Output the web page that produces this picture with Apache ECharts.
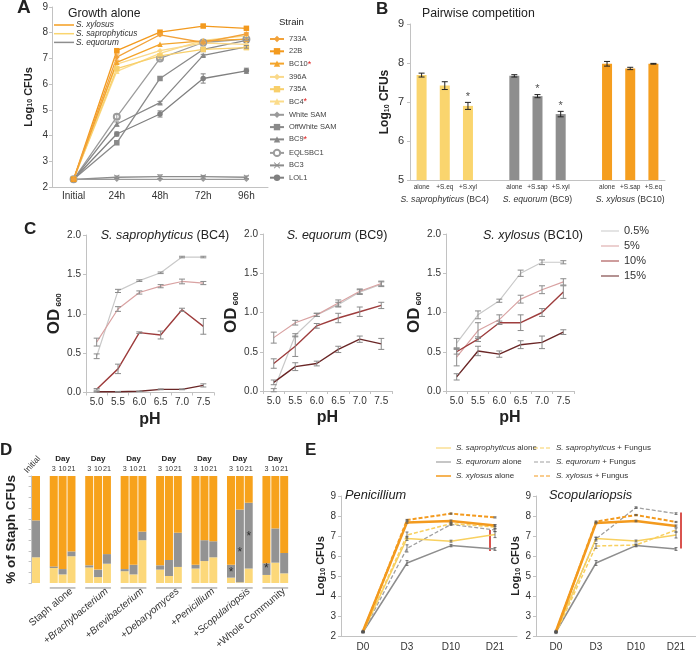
<!DOCTYPE html>
<html><head><meta charset="utf-8">
<script src="https://cdn.jsdelivr.net/npm/echarts@6/dist/echarts.min.js"></script>
<style>html,body{margin:0;padding:0;background:#fff}#c{width:696px;height:652px}</style>
</head><body><div id="c"></div>
<script>
// ================= DATA =================
// Panel A: growth alone
const timeCats = ['Initial','24h','48h','72h','96h'];
const strainNames = ['733A','22B','BC10','396A','735A','BC4','White SAM','OffWhite SAM','BC9','EQLSBC1','BC3','LOL1'];
const starredStrains = ['BC10','BC4','BC9'];
const v733A = [2.3,7.05,7.92,7.62,7.95];
const v22B = [2.3,7.3,8.02,8.26,8.17];
const vBC10 = [2.3,6.85,7.55,7.68,7.75];
const v396A = [2.3,6.78,7.3,7.6,7.55];
const v735A = [2.3,6.6,7.1,7.35,7.42];
const vBC4 = [2.3,6.5,7.2,7.7,7.88];
const vWhiteSAM = [2.3,2.3,2.3,2.3,2.3];
const vOffWhiteSAM = [2.3,3.72,6.22,7.35,7.7];
const vBC9 = [2.3,4.45,5.28,7.12,7.45];
const vEQLSBC1 = [2.3,4.73,7.0,7.62,7.75];
const vBC3 = [2.3,2.38,2.4,2.4,2.38];
const vLOL1 = [2.3,4.06,4.84,6.22,6.52];
const e733A = [0,0.12,0.04,0.05,0.05];
const e22B = [0,0.04,0.04,0.04,0.04];
const eBC9 = [0,0.08,0.05,0.04,0.05];
const eEQLSBC1 = [0,0.09,0.05,0.05,0.06];
const eBC3 = [0,0.05,0.07,0.05,0.05];
const eLOL1 = [0,0.08,0.12,0.18,0.1];
const strainValues = [v733A,v22B,vBC10,v396A,v735A,vBC4,vWhiteSAM,vOffWhiteSAM,vBC9,vEQLSBC1,vBC3,vLOL1];
const strainErrors = [e733A,e22B,null,null,null,null,null,null,eBC9,eEQLSBC1,eBC3,eLOL1];
const speciesLegend = ['S. xylosus','S. saprophyticus','S. equorum'];

// Panel B: pairwise competition
const pairCats = ['alone','+S.eq','+S.xyl','g1','alone','+S.sap','+S.xyl','g2','alone','+S.sap','+S.eq'];
const pairValues = [7.69,7.42,6.9,null,7.67,7.15,6.69,null,7.98,7.86,7.98];
const pairErr = [0.05,0.1,0.09,null,0.03,0.04,0.07,null,0.06,0.03,0.01];
const pairSig = [0,0,1,0,0,1,1,0,0,0,0];
const pairGroups = ['S. saprophyticus (BC4)','S. equorum (BC9)','S. xylosus (BC10)'];

// Panel C: OD600 vs pH at salt levels
const phCats = ['5.0','5.5','6.0','6.5','7.0','7.5'];
const saltLevels = ['0.5%','5%','10%','15%'];
const cTitles = ['S. saprophyticus (BC4)','S. equorum (BC9)','S. xylosus (BC10)'];
const sapOD05 = [0.46,1.29,1.42,1.52,1.72,1.72];
const sapOD5  = [0.64,1.06,1.27,1.35,1.41,1.39];
const sapOD10 = [0.04,0.30,0.76,0.73,1.05,0.84];
const sapOD15 = [0.01,0.01,0.015,0.04,0.04,0.09];
const sapE05 = [0.03,0.02,0.01,0.01,0.01,0.01];
const sapE5  = [0.05,0.03,0.02,0.02,0.03,0.02];
const sapE10 = [0.01,0.06,0.01,0.05,0.02,0.1];
const sapE15 = [0.005,0.003,0.003,0.005,0.005,0.02];
const eqOD05 = [0.01,0.71,0.97,1.10,1.26,1.36];
const eqOD5  = [0.68,0.87,0.97,1.12,1.27,1.37];
const eqOD10 = [0.35,0.57,0.83,0.93,1.01,1.09];
const eqOD15 = [0.11,0.31,0.35,0.53,0.66,0.60];
const eqE05 = [0.02,0.02,0.02,0.03,0.03,0.03];
const eqE5  = [0.07,0.03,0.02,0.04,0.03,0.03];
const eqE10 = [0.06,0.13,0.03,0.06,0.06,0.04];
const eqE15 = [0.03,0.05,0.03,0.04,0.04,0.07];
const xylOD05 = [0.61,0.97,1.15,1.50,1.64,1.64];
const xylOD5  = [0.43,0.77,0.91,1.17,1.29,1.39];
const xylOD10 = [0.50,0.66,0.87,0.87,1.00,1.26];
const xylOD15 = [0.18,0.51,0.47,0.59,0.62,0.75];
const xylE05 = [0.06,0.05,0.02,0.04,0.03,0.02];
const xylE5  = [0.11,0.1,0.06,0.05,0.05,0.04];
const xylE10 = [0.03,0.03,0.02,0.1,0.05,0.08];
const xylE15 = [0.04,0.06,0.04,0.05,0.08,0.03];

// Panel D: % of Staph CFUs (stacked)
const dGroups = ['Staph alone','+Brachybacterium','+Brevibacterium','+Debaryomyces','+Penicillium','+Scopulariopsis','+Whole Community'];
const dDays = ['3','10','21'];
const dYellow = [24,null,14,8,25,null,14.5,5.5,18,null,11,8,40,null,12.5,6.5,15,null,13.5,20.5,24,null,5,0.6,13.5,null,7.5,19,9];
const dGray   = [34.5,null,1.5,5,4.5,null,2,7,9,null,2,9,8,null,4,15,32,null,3.5,19.5,15,null,12,68,61.5,null,11,32,19];
const dOrange = [41.5,null,84.5,87,70.5,null,83.5,87.5,73,null,87,83,52,null,83.5,78.5,53,null,83,60,61,null,83,31.4,25,null,81.5,49,72];
const dStars = [[22,10],[23,28],[24,43],[26,13]];

// Panel E: with fungi
const dayCats = ['D0','D3','D10','D21'];
const eNames = ['S. saprophyticus alone','S. equrorum alone','S. xylosus alone','S. saprophyticus + Fungus','S. equrorum + Fungus','S. xylosus + Fungus'];
const eFungi = ['Penicillium','Scopulariopsis'];
const penSapAlone = [2.2,6.88,6.74,7.07];
const penEqAlone  = [2.2,5.65,6.52,6.35];
const penXylAlone = [2.25,7.68,7.75,7.52];
const penSapFungus = [2.18,7.05,7.62,7.45];
const penEqFungus  = [2.2,6.38,7.58,7.3];
const penXylFungus = [2.2,7.8,8.12,7.93];
const scoSapAlone = [2.2,6.87,6.75,7.05];
const scoEqAlone  = [2.2,5.65,6.52,6.35];
const scoXylAlone = [2.25,7.65,7.75,7.5];
const scoSapFungus = [2.15,6.5,6.55,7.3];
const scoEqFungus  = [2.2,6.85,8.42,8.12];
const scoXylFungus = [2.2,7.72,8.05,7.7];
const penErrSapAlone = [0.03,0.1,0.05,0.15];
const penErrEqAlone  = [0.03,0.12,0.06,0.07];
const penErrXylAlone = [0.03,0.04,0.05,0.05];
const penErrSapFungus = [0.03,0.15,0.05,0.1];
const penErrEqFungus  = [0.03,0.18,0.05,0.08];
const penErrXylFungus = [0.03,0.03,0.03,0.03];
const scoErrSapAlone = [0.03,0.05,0.05,0.15];
const scoErrEqAlone  = [0.03,0.12,0.06,0.07];
const scoErrXylAlone = [0.03,0.04,0.04,0.05];
const scoErrSapFungus = [0.03,0.12,0.05,0.1];
const scoErrEqFungus  = [0.03,0.1,0.04,0.04];
const scoErrXylFungus = [0.03,0.03,0.03,0.03];
const penRange = [3,6.25,7.3];
const scoRange = [3,6.38,8.17];

// ================= STYLE =================
const F = '"Liberation Sans", Arial, sans-serif';
const ORANGE = '#F59E1F', YELLOW = '#FAD56E', GRAY = '#8E8E8E', AXC = '#c2c2c2', TXT = '#333';
const XPATH = 'path://M0,1L1,0L5,4L9,0L10,1L6,5L10,9L9,10L5,6L1,10L0,9L4,5Z';
const BOX = 'M0,0H0.01V0.01H0Z M19.99,9.99H20V10H19.99Z ';
const ICON_LINE = 'path://' + BOX + 'M0,4.4H20V5.6H0Z';
const ICON_THICK = 'path://' + BOX + 'M0,3.9H20V6.1H0Z';
const ICON_DASH = 'path://' + BOX + 'M0,4.3H5V5.7H0Z M7.5,4.3H12.5V5.7H7.5Z M15,4.3H20V5.7H15Z';

function errData(vals, errs){ const out=[]; if(!errs) return out; vals.forEach((v,i)=>{ if(v!=null && errs[i]) out.push([i, v-errs[i], v+errs[i]]); }); return out; }
function errSeries(xi, yi, vals, errs, color, cap, lw){
  return {type:'custom', xAxisIndex:xi, yAxisIndex:yi, silent:true, z:6, data:errData(vals,errs), encode:{x:0,y:[1,2]},
    renderItem:(p,api)=>{ const a=api.coord([api.value(0),api.value(2)]), b=api.coord([api.value(0),api.value(1)]); const x=a[0];
      const st={stroke:color,lineWidth:lw};
      return {type:'group',children:[
        {type:'line',shape:{x1:x,y1:a[1],x2:x,y2:b[1]},style:st},
        {type:'line',shape:{x1:x-cap,y1:a[1],x2:x+cap,y2:a[1]},style:st},
        {type:'line',shape:{x1:x-cap,y1:b[1],x2:x+cap,y2:b[1]},style:st}]}; }};
}
const axLine = {show:true, lineStyle:{color:AXC,width:1}};
const axTick = {show:true, length:3, lineStyle:{color:AXC}};
const lbl = (fs, m, extra) => Object.assign({fontSize:fs, color:TXT, margin:m, fontFamily:F}, extra||{});
const subName = (fs, sub) => ({fontSize:fs, fontWeight:'bold', color:'#222', fontFamily:F, rich:{s:{fontSize:sub, fontWeight:'bold', color:'#222', verticalAlign:'bottom', fontFamily:F}}});

// ================= LAYOUT =================
const grids = [
  {left:52, top:7, width:216, height:180},      // A
  {left:410, top:24, width:255, height:156},    // B
  {left:86, top:235, width:128, height:157.5},  // C1
  {left:263, top:234, width:129, height:157},   // C2
  {left:446, top:234, width:128, height:157},   // C3
  {left:31.6, top:476, width:257, height:110},  // D
  {left:341, top:496, width:176, height:140},   // E1
  {left:536, top:496, width:161, height:140}    // E2
];

// D categories
const dCats = ['Initial','gap0'];
dGroups.forEach((g,gi)=>{ dDays.forEach(d=>dCats.push(g+'|'+d)); if(gi<dGroups.length-1) dCats.push('gap'+(gi+1)); });
const dSpans = dGroups.map((g,gi)=>[2+gi*4, 4+gi*4]);

const pHName = {name:'pH',nameLocation:'middle',nameGap:19,nameTextStyle:{fontSize:16,fontWeight:'bold',color:'#222',fontFamily:F}};
const xAxis = [
  {gridIndex:0,type:'category',data:timeCats,axisLine:axLine,axisTick:{length:4,lineStyle:{color:AXC}},axisLabel:lbl(10,4)},
  {gridIndex:1,type:'category',data:pairCats,axisLine:axLine,axisTick:{show:false},axisLabel:lbl(6.5,4,{interval:0,formatter:v=>v.startsWith('g')?'':v})},
  {gridIndex:1,type:'category',data:pairCats,position:'bottom',axisLine:{show:false},axisTick:{show:false},
    axisLabel:lbl(8.6,15,{interval:0,formatter:(v,i)=>{const k=[1,5,9].indexOf(i); if(k<0) return ''; const s=pairGroups[k]; const m=s.match(/^(S\. \w+)(.*)$/); return '{i|'+m[1]+'}'+m[2];},
      rich:{i:{fontStyle:'italic',fontSize:8.6,color:TXT,fontFamily:F}}})},
  Object.assign({gridIndex:2,type:'category',data:phCats,axisLine:axLine,axisTick:axTick,axisLabel:lbl(10,5)},pHName),
  Object.assign({gridIndex:3,type:'category',data:phCats,axisLine:axLine,axisTick:axTick,axisLabel:lbl(10,5)},pHName),
  Object.assign({gridIndex:4,type:'category',data:phCats,axisLine:axLine,axisTick:axTick,axisLabel:lbl(10,5)},pHName),
  {gridIndex:5,type:'category',data:dCats,axisLine:{show:false},axisTick:{show:false},
    axisLabel:lbl(10,7,{interval:0,rotate:40,formatter:(v)=>{const p=v.split('|'); if(p.length<2||p[1]!=='21') return ''; const g=p[0]; return g.startsWith('+')&&g!=='+Whole Community' ? '+{i|'+g.slice(1)+'}' : g;},
      rich:{i:{fontStyle:'italic',fontSize:10,color:TXT,fontFamily:F}}})},
  {gridIndex:5,type:'category',data:dCats,position:'top',axisLine:{show:false},axisTick:{show:false},
    axisLabel:lbl(7.2,2,{interval:0,lineHeight:10,formatter:(v)=>{const p=v.split('|'); if(p.length<2) return ''; return p[1]==='10' ? '{d|Day}\n'+p[1] : p[1];},
      rich:{d:{fontSize:8,fontWeight:'bold',color:'#222',fontFamily:F,lineHeight:10}}})},
  {gridIndex:6,type:'category',data:dayCats,axisLine:axLine,axisTick:{length:4,lineStyle:{color:AXC}},axisLabel:lbl(10,6)},
  {gridIndex:7,type:'category',data:dayCats,axisLine:axLine,axisTick:{length:4,lineStyle:{color:AXC}},axisLabel:lbl(10,6)}
];
const yAxis = [
  {gridIndex:0,type:'value',min:2,max:9,interval:1,splitLine:{show:false},axisLine:axLine,axisTick:axTick,axisLabel:lbl(10,4),
    name:'Log{s|10} CFUs',nameLocation:'middle',nameRotate:90,nameGap:18,nameTextStyle:subName(11,7)},
  {gridIndex:1,type:'value',min:5,max:9,interval:1,splitLine:{show:false},axisLine:axLine,axisTick:axTick,axisLabel:lbl(11,6),
    name:'Log{s|10} CFUs',nameLocation:'middle',nameRotate:90,nameGap:19,nameTextStyle:subName(12,7)},
  {gridIndex:2,type:'value',min:0,max:2,interval:0.5,splitLine:{show:false},axisLine:axLine,axisTick:axTick,axisLabel:lbl(10,5,{formatter:v=>v.toFixed(1)}),
    name:'OD{s| 600}',nameLocation:'middle',nameRotate:90,nameGap:21,nameTextStyle:subName(17,8)},
  {gridIndex:3,type:'value',min:0,max:2,interval:0.5,splitLine:{show:false},axisLine:axLine,axisTick:axTick,axisLabel:lbl(10,5,{formatter:v=>v.toFixed(1)}),
    name:'OD{s| 600}',nameLocation:'middle',nameRotate:90,nameGap:21,nameTextStyle:subName(17,8)},
  {gridIndex:4,type:'value',min:0,max:2,interval:0.5,splitLine:{show:false},axisLine:axLine,axisTick:axTick,axisLabel:lbl(10,5,{formatter:v=>v.toFixed(1)}),
    name:'OD{s| 600}',nameLocation:'middle',nameRotate:90,nameGap:18,nameTextStyle:subName(17,8)},
  {gridIndex:5,type:'value',min:0,max:100,interval:10,splitLine:{show:false},axisLine:axLine,axisTick:axTick,axisLabel:{show:false},
    name:'% of Staph CFUs',nameLocation:'middle',nameRotate:90,nameGap:13,nameTextStyle:{fontSize:13.5,fontWeight:'bold',color:'#222',fontFamily:F}},
  {gridIndex:6,type:'value',min:2,max:9,interval:1,splitLine:{show:false},axisLine:axLine,axisTick:axTick,axisLabel:lbl(10,5),
    name:'Log{s|10} CFUs',nameLocation:'middle',nameRotate:90,nameGap:14,nameTextStyle:subName(11,7)},
  {gridIndex:7,type:'value',min:2,max:9,interval:1,splitLine:{show:false},axisLine:axLine,axisTick:axTick,axisLabel:lbl(10,5),
    name:'Log{s|10} CFUs',nameLocation:'middle',nameRotate:90,nameGap:14,nameTextStyle:subName(11,7)}
];

const series = [];
// ----- A
const strainColors = ['#F2A23A','#F39A1E','#F4A52C','#FAD98A','#F8CF6A','#FBDC8B','#9a9a9a','#8a8a8a','#888888','#9c9c9c','#8c8c8c','#808080'];
const strainSymbols = ['diamond','rect','triangle','diamond','rect','triangle','diamond','rect','triangle','emptyCircle',XPATH,'circle'];
for (let k = strainNames.length-1; k >= 0; k--) {
  series.push({type:'line',name:strainNames[k],xAxisIndex:0,yAxisIndex:0,data:strainValues[k],symbol:strainSymbols[k],symbolSize:strainSymbols[k]==='emptyCircle'?6:5.5,
    itemStyle:{color:strainColors[k]},lineStyle:{color:strainColors[k],width:1.3},z:3});
  if (strainErrors[k]) series.push(errSeries(0,0,strainValues[k],strainErrors[k],strainColors[k],2.5,1));
}
// ----- B
const pairColor = i => i<3 ? YELLOW : (i<7 ? GRAY : ORANGE);
series.push({type:'bar',xAxisIndex:1,yAxisIndex:1,barWidth:10,data:pairValues.map((v,i)=>v==null?null:{value:v,itemStyle:{color:pairColor(i)}})});
series.push(errSeries(1,1,pairValues,pairErr,'#222',3,1));
series.push({type:'scatter',xAxisIndex:1,yAxisIndex:1,symbolSize:0,silent:true,
  data:pairValues.map((v,i)=>pairSig[i]?[i,v+pairErr[i]]:null).filter(Boolean),
  label:{show:true,position:'top',distance:0,formatter:'*',fontSize:11,color:'#222',fontFamily:F}});
// ----- C
const saltColors = ['#C9C9C9','#D9A2A2','#9E3D3D','#6A2626'];
const saltWidths = [1.2,1.2,1.4,1.4];
const cVals = [[sapOD05,sapOD5,sapOD10,sapOD15],[eqOD05,eqOD5,eqOD10,eqOD15],[xylOD05,xylOD5,xylOD10,xylOD15]];
const cErrs = [[sapE05,sapE5,sapE10,sapE15],[eqE05,eqE5,eqE10,eqE15],[xylE05,xylE5,xylE10,xylE15]];
cVals.forEach((set,p)=>{ set.forEach((vals,s)=>{
  series.push({type:'line',name:saltLevels[s],xAxisIndex:3+p,yAxisIndex:2+p,data:vals,symbol:'none',lineStyle:{color:saltColors[s],width:saltWidths[s]},itemStyle:{color:saltColors[s]}});
  series.push(errSeries(3+p,2+p,vals,cErrs[p][s],'#8a8a8a',3,1));
});});
// ----- D
const dCols = ['#FCD87A','#939393','#F7A21C'];
[dYellow,dGray,dOrange].forEach((arr,k)=>{
  series.push({type:'bar',xAxisIndex:6,yAxisIndex:5,stack:'d',barWidth:8,data:arr,itemStyle:{color:dCols[k]}});
});
series.push({type:'scatter',xAxisIndex:6,yAxisIndex:5,symbolSize:0,silent:true,data:dStars,z:8,
  label:{show:true,position:'inside',formatter:'*',fontSize:12,color:'#111',fontFamily:F}});
series.push({type:'custom',xAxisIndex:6,yAxisIndex:5,silent:true,data:dSpans,encode:{x:[0,1]},
  renderItem:(p,api)=>{const a=api.coord([api.value(0),0]), b=api.coord([api.value(1),0]); const hw=4;
    return {type:'line',shape:{x1:a[0]-hw,y1:a[1]+5,x2:b[0]+hw,y2:b[1]+5},style:{stroke:'#8a8a8a',lineWidth:1}};}});
// ----- E
const eColors = ['#F8D060','#8E8E8E','#F39A1E','#F8D060','#A0A0A0','#F39A1E'];
const eWidths = [1.5,1.5,2.5,1.5,1.3,2];
const eDash = ['solid','solid','solid',[4,2],[4,2],[4,2]];
const eIcons = [ICON_LINE,ICON_LINE,ICON_THICK,ICON_DASH,ICON_DASH,ICON_DASH];
const eVals = [[penSapAlone,penEqAlone,penXylAlone,penSapFungus,penEqFungus,penXylFungus],[scoSapAlone,scoEqAlone,scoXylAlone,scoSapFungus,scoEqFungus,scoXylFungus]];
const eErrs = [[penErrSapAlone,penErrEqAlone,penErrXylAlone,penErrSapFungus,penErrEqFungus,penErrXylFungus],[scoErrSapAlone,scoErrEqAlone,scoErrXylAlone,scoErrSapFungus,scoErrEqFungus,scoErrXylFungus]];
const eRanges = [penRange, scoRange];
const eRangeDx = [-5, 5];
eVals.forEach((set,p)=>{
  [1,4,0,3,2,5].forEach(s=>{
    series.push({type:'line',name:eNames[s],xAxisIndex:8+p,yAxisIndex:6+p,data:set[s],symbol:'none',
      lineStyle:{color:eColors[s],width:eWidths[s],type:eDash[s]},itemStyle:{color:eColors[s]}});
    series.push(errSeries(8+p,6+p,set[s],eErrs[p][s],'#555',1.5,0.8));
  });
  series.push({type:'custom',xAxisIndex:8+p,yAxisIndex:6+p,silent:true,data:[eRanges[p]],encode:{x:0,y:[1,2]},
    renderItem:(pp,api)=>{const a=api.coord([api.value(0),api.value(2)]), b=api.coord([api.value(0),api.value(1)]); const x=a[0]+eRangeDx[p];
      return {type:'line',shape:{x1:x,y1:a[1],x2:x,y2:b[1]},style:{stroke:'#D9534F',lineWidth:2}};}});
});

// ================= TEXT / GRAPHIC =================
const T = (x,y,text,fs,extra) => ({type:'text',x:x,y:y,silent:true,style:Object.assign({text:text,fontSize:fs,fontFamily:F,fill:'#222',align:'left',verticalAlign:'middle'},extra||{})});
const italRich = fs => ({i:{fontStyle:'italic',fontSize:fs,fontFamily:F,fill:'#222'},n:{fontSize:fs,fontFamily:F,fill:'#222'}});
const splitSp = s => { const m=s.match(/^(S\. \w+)(.*)$/); return '{i|'+m[1]+'}{n|'+m[2]+'}'; };
const graphic = [
  T(17,8,'A',19,{fontWeight:'bold'}),
  T(376,9,'B',17,{fontWeight:'bold'}),
  T(24,229,'C',17,{fontWeight:'bold'}),
  T(0,450,'D',17,{fontWeight:'bold'}),
  T(305,450,'E',17,{fontWeight:'bold'}),
  T(68,14,'Growth alone',12.2),
  T(422,14,'Pairwise competition',12.3),
  T(279,22,'Strain',9.5),
  T(165,236,splitSp(cTitles[0]),12.5,{align:'center',rich:italRich(12.5)}),
  T(337,236,splitSp(cTitles[1]),12.5,{align:'center',rich:italRich(12.5)}),
  T(533,236,splitSp(cTitles[2]),12.5,{align:'center',rich:italRich(12.5)}),
  T(345,495,eFungi[0],12.8,{fontStyle:'italic'}),
  T(549,495,eFungi[1],12.8,{fontStyle:'italic'}),
  {type:'text',x:29,y:475,rotation:48*Math.PI/180,silent:true,style:{text:dCats[0],fontSize:8.5,fontFamily:F,fill:TXT,align:'left',verticalAlign:'bottom'}}
];
const spColors = [ORANGE, YELLOW, GRAY];
speciesLegend.forEach((s,i)=>{
  const y = 25 + i*8.7;
  graphic.push({type:'line',silent:true,shape:{x1:54,y1:y,x2:74,y2:y},style:{stroke:spColors[i],lineWidth:1.5}});
  graphic.push(T(76,y,s,8.3,{fontStyle:'italic',fill:'#333'}));
});

const legItal = n => n.replace(/^(S\. \w+)/,'{i|$1}');
const option = {
  animation:false,
  backgroundColor:'#fff',
  textStyle:{fontFamily:F},
  grid:grids, xAxis:xAxis, yAxis:yAxis, series:series, graphic:graphic,
  legend:[
    {data:strainNames,orient:'vertical',left:264,top:30,itemWidth:14,itemHeight:8,itemGap:4.3,selectedMode:false,
      formatter:n=>starredStrains.includes(n)?n+'{r|*}':n,
      textStyle:{fontSize:7.5,color:'#444',lineHeight:8,fontFamily:F,rich:{r:{color:'#E02020',fontSize:9,verticalAlign:'top',fontFamily:F}}}},
    {data:saltLevels.map(n=>({name:n,icon:ICON_LINE})),orient:'vertical',left:596,top:220,itemWidth:18,itemHeight:10,itemGap:3,selectedMode:false,
      textStyle:{fontSize:11,color:'#333',lineHeight:12,fontFamily:F}},
    {data:eNames.slice(0,3).map((n,i)=>({name:n,icon:eIcons[i]})),orient:'vertical',left:431,top:438,itemWidth:15,itemHeight:8,itemGap:4,selectedMode:false,formatter:legItal,
      textStyle:{fontSize:8,color:'#333',lineHeight:10,fontFamily:F,rich:{i:{fontStyle:'italic',fontSize:8,color:'#333',fontFamily:F}}}},
    {data:eNames.slice(3).map((n,i)=>({name:n,icon:eIcons[i+3]})),orient:'vertical',left:529,top:438,itemWidth:18,itemHeight:8,itemGap:4,selectedMode:false,formatter:legItal,
      textStyle:{fontSize:8,color:'#333',lineHeight:10,fontFamily:F,rich:{i:{fontStyle:'italic',fontSize:8,color:'#333',fontFamily:F}}}}
  ]
};
const chart = echarts.init(document.getElementById('c'));
chart.setOption(option);
</script>
</body></html>
